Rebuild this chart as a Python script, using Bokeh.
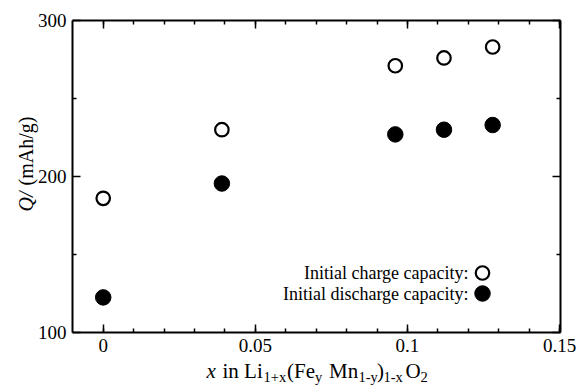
import math
from bokeh.plotting import figure
from bokeh.models import (Range1d, LinearAxis, FixedTicker, CustomJSTickFormatter,
                          Label, ColumnDataSource)
from bokeh.embed import file_html
from bokeh.resources import INLINE

# ---- data ----
x_frac = [0.0, 0.039, 0.096, 0.112, 0.128]
charge_capacity = [186, 230, 271, 276, 283]
discharge_capacity = [122.5, 195.5, 227, 230, 233]
x_ticks = [0.0, 0.05, 0.1, 0.15]
y_ticks = [100, 200, 300]
legend_labels = ["Initial charge capacity:", "Initial discharge capacity:"]

# ---- layout (pixel box of the plot area inside the canvas) ----
W, H = 576, 385
FL, FR, FT, FB = 72, 560, 20, 332
X0, X1 = -0.0101, 0.1503
Y0, Y1 = 100, 300
FONT = "Liberation Serif"


def dx(px):
    return X0 + (px - FL) / (FR - FL) * (X1 - X0)


def dy(py):
    return Y1 - (py - FT) / (FB - FT) * (Y1 - Y0)


p = figure(width=W, height=H, output_backend="svg", toolbar_location=None,
           x_range=Range1d(dx(0), dx(W)), y_range=Range1d(dy(H), dy(0)),
           min_border=0, x_axis_location=None, y_axis_location=None)
p.background_fill_color = "white"
p.border_fill_color = "white"
p.grid.visible = False
p.outline_line_color = None

xminor = [round(0.01 * i, 2) for i in range(16)]
fmt = CustomJSTickFormatter(code="return String(Math.round(tick*100)/100);")
blank = CustomJSTickFormatter(code="return '';")


def style(ax, labels=True):
    ax.axis_line_color = "black"
    ax.axis_line_width = 2
    ax.major_tick_in = 8
    ax.major_tick_out = 0
    ax.minor_tick_in = 4
    ax.minor_tick_out = 0
    ax.major_tick_line_width = 1.5
    ax.minor_tick_line_width = 1.5
    ax.major_label_text_font = FONT
    ax.major_label_text_color = "black"
    ax.major_label_text_font_size = "19px"
    ax.major_label_standoff = 6 if labels else 0


for loc, fixed in [("below", Y0), ("above", Y1)]:
    ax = LinearAxis(ticker=FixedTicker(ticks=x_ticks, minor_ticks=xminor),
                    formatter=fmt if loc == "below" else blank,
                    fixed_location=fixed, bounds=(X0, X1))
    style(ax, labels=(loc == "below"))
    p.add_layout(ax, loc)

for loc, fixed in [("left", X0), ("right", X1)]:
    ax = LinearAxis(ticker=FixedTicker(ticks=y_ticks, minor_ticks=[150, 250]),
                    fixed_location=fixed, bounds=(Y0, Y1))
    if loc == "right":
        ax.formatter = blank
    style(ax, labels=(loc == "left"))
    p.add_layout(ax, loc)

src = ColumnDataSource(dict(x=x_frac, c=charge_capacity, d=discharge_capacity))
p.scatter("x", "c", source=src, size=13.5, marker="circle", fill_color="white",
          line_color="black", line_width=2.2)
p.scatter("x", "d", source=src, size=15.5, marker="circle", fill_color="black",
          line_color="black")

# legend (text right aligned, key marker to the right)
leg_rows = [272.5, 293.0]
for lab, py, filled in zip(legend_labels, leg_rows, [False, True]):
    p.add_layout(Label(x=dx(468), y=dy(py), text=lab, text_align="right",
                       text_baseline="middle", text_font=FONT,
                       text_font_size="18px", text_color="black"))
    if filled:
        p.scatter([dx(482)], [dy(py)], size=15.5, marker="circle",
                  fill_color="black", line_color="black")
    else:
        p.scatter([dx(482)], [dy(py)], size=13.5, marker="circle",
                  fill_color="white", line_color="black", line_width=2.2)

# x axis label with subscripts (vertical centres of each run)
MAIN, SUB = "21px", "14.5px"
MID, SUBMID = 370.0, 376.0
pieces = [
    ("x", 206, MAIN, "italic", MID),
    ("in Li", 222, MAIN, "normal", MID),
    ("1+x", 263, SUB, "normal", SUBMID),
    ("(Fe", 286.5, MAIN, "normal", MID),
    ("y", 314.5, SUB, "normal", SUBMID),
    ("Mn", 328.5, MAIN, "normal", MID),
    ("1-y", 358, SUB, "normal", SUBMID),
    (")", 376.5, MAIN, "normal", MID),
    ("1-x", 383, SUB, "normal", SUBMID),
    ("O", 405, MAIN, "normal", MID),
    ("2", 420, SUB, "normal", SUBMID),
]
for t, px, fs, st, py in pieces:
    p.add_layout(Label(x=dx(px), y=dy(py), text=t, text_align="left",
                       text_baseline="middle", text_font=FONT,
                       text_font_size=fs, text_font_style=st, text_color="black"))

# y axis label: "Q/ (mAh/g)" rotated, Q italic
YLX = 25
p.add_layout(Label(x=dx(YLX), y=dy(211), text="Q/", angle=math.pi / 2,
                   text_align="left", text_baseline="middle", text_font=FONT,
                   text_font_size="20px", text_font_style="italic", text_color="black"))
p.add_layout(Label(x=dx(YLX), y=dy(185), text="(mAh/g)", angle=math.pi / 2,
                   text_align="left", text_baseline="middle", text_font=FONT,
                   text_font_size="20px", text_color="black"))

open("out.html", "w").write(file_html(p, INLINE))
